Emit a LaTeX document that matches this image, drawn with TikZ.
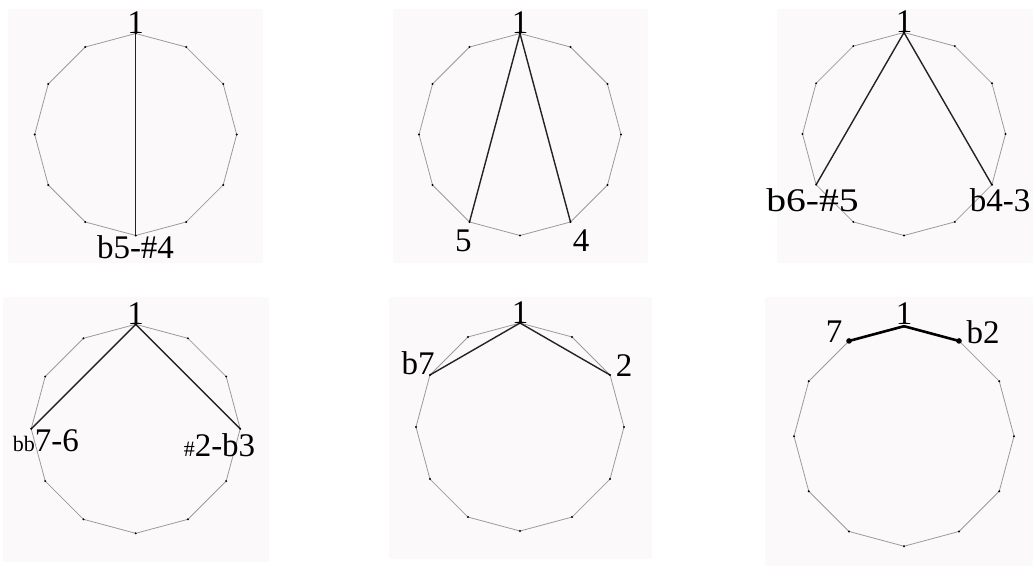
\documentclass[tikz,border=0pt]{standalone}
\usepackage{fontspec}
\setmainfont{Liberation Serif}
\definecolor{bgpink}{RGB}{252,249,250}
\definecolor{edgegray}{RGB}{155,155,155}
\definecolor{chordc}{RGB}{35,35,35}
\tikzset{
  panelbg/.style={fill=bgpink, draw=none},
  polyedge/.style={draw=edgegray, line width=0.8pt},
  chord/.style={draw=chordc, line width=1.4pt},
  boldchord/.style={draw=black, line width=2.6pt, line cap=round},
  lbl/.style={font=\fontsize{33}{33}\selectfont, inner sep=0pt, anchor=base},
}
\newcommand\smalltxt[1]{{\fontsize{22}{22}\selectfont #1}}
% #1 prefix, #2 cx, #3 cy, #4 r
\newcommand\mkpoly[4]{%
  \foreach \k in {0,...,11} {
    \coordinate (#1\k) at ({#2+#4*cos(90-30*\k)}, {#3-#4*sin(90-30*\k)});
  }
  \foreach \k [evaluate=\k as \n using {int(mod(\k+1,12))}] in {0,...,11} {
    \draw[polyedge] (#1\k) -- (#1\n);
  }
}
\newcommand\mkdots[1]{%
  \foreach \k in {0,...,11} { \fill[black] (#1\k) circle (1.1pt); }
}
\begin{document}
\begin{tikzpicture}[x=1pt, y=-1pt]
\useasboundingbox (0,0) rectangle (1033,566);
% backgrounds
\fill[panelbg] (8,9) rectangle (263,263);
\fill[panelbg] (393,9) rectangle (648,263);
\fill[panelbg] (777,9) rectangle (1033,263);
\fill[panelbg] (3,297) rectangle (269,562);
\fill[panelbg] (389,297) rectangle (652,559);
\fill[panelbg] (765,297) rectangle (1033,566);

% panel 1
\mkpoly{a}{135.7}{134.5}{101}
\draw[chord] (a0) -- (a6);
\mkdots{a}
\node[lbl] (a1lbl) at (a0) {1};
\node[lbl] (atri) at (135.5,258.3) {b5-\#4};

% panel 2
\mkpoly{b}{520}{134.5}{101}
\draw[chord] (b0) -- (b5);
\draw[chord] (b0) -- (b7);
\mkdots{b}
\node[lbl] (b1lbl) at (b0) {1};
\node[lbl] (bfive) at (463.3,251.7) {5};
\node[lbl] (bfour) at (581,251.7) {4};

% panel 3
\mkpoly{c}{904}{134}{101.5}
\draw[chord] (c0) -- (c4);
\draw[chord] (c0) -- (c8);
\mkdots{c}
\node[lbl] (c1lbl) at (c0) {1};
\node[lbl] (csix) at (812.5,211) {\scalebox{1.2}[1]{b6-\#5}};
\node[lbl] (cfour) at (1000,211) {b4-3};

% panel 4
\mkpoly{d}{135.7}{428.8}{104.5}
\draw[chord] (d0) -- (d3);
\draw[chord] (d0) -- (d9);
\mkdots{d}
\node[lbl] (d1lbl) at (d0) {1};
\node[lbl] (dseven) at (45.8,451.7) {\smalltxt{bb}7-6};
\node[lbl] (dtwo) at (219.5,456.7) {\smalltxt{\#}2-b3};

% panel 5
\mkpoly{e}{520}{427}{104}
\draw[chord] (e0) -- (e2);
\draw[chord] (e0) -- (e10);
\mkdots{e}
\node[lbl] (e1lbl) at (e0) {1};
\node[lbl] (eseven) at (418,374) {b7};
\node[lbl] (etwo) at (624,376.7) {2};

% panel 6
\mkpoly{f}{904}{436.2}{110}
\draw[boldchord] (f0) -- (f1);
\draw[boldchord] (f0) -- (f11);
\mkdots{f}
\fill[black] (f1) circle (2.8pt);
\fill[black] (f11) circle (2.8pt);
\node[lbl] (f1lbl) at (904,324) {1};
\node[lbl] (fseven) at (834,342.3) {7};
\node[lbl] (ftwo) at (983,343.3) {b2};
\end{tikzpicture}
\end{document}
